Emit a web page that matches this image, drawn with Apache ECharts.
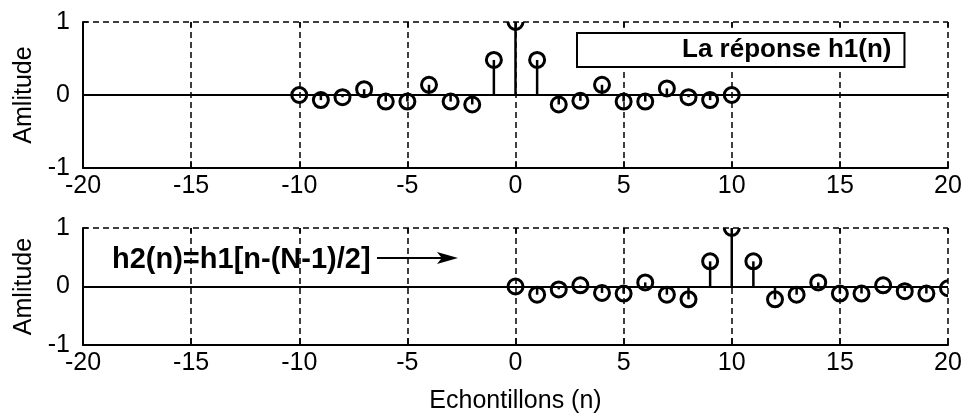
<!DOCTYPE html>
<html>
<head>
<meta charset="utf-8">
<script src="https://cdn.jsdelivr.net/npm/echarts@6/dist/echarts.min.js"></script>
<style>
html, body { margin: 0; padding: 0; background: #fff; }
#main { width: 965px; height: 416px; }
</style>
</head>
<body>
<div id="main"></div>
<script>
// h1(n), n = -10..10
var n1 = [-10, -9, -8, -7, -6, -5, -4, -3, -2, -1, 0, 1, 2, 3, 4, 5, 6, 7, 8, 9, 10];
var h1 = [0, -0.07, -0.03, 0.08, -0.09, -0.09, 0.14, -0.09, -0.13, 0.48, 1,
          0.48, -0.13, -0.08, 0.14, -0.09, -0.09, 0.09, -0.03, -0.07, 0];

// h2(n) = h1[n-(N-1)/2], n = 0..20
var n2 = [0, 1, 2, 3, 4, 5, 6, 7, 8, 9, 10, 11, 12, 13, 14, 15, 16, 17, 18, 19, 20];
var h2 = [0, -0.14, -0.05, 0.02, -0.11, -0.12, 0.07, -0.14, -0.22, 0.43, 1,
          0.43, -0.22, -0.14, 0.07, -0.12, -0.12, 0.02, -0.08, -0.12, -0.03];

var yTicks = [-1, 0, 1];
var FONT = '"Liberation Sans", Arial, sans-serif';

var myChart = echarts.init(document.getElementById('main'));

function pairs(xs, ys) {
    var out = [];
    for (var i = 0; i < xs.length; i++) out.push([xs[i], ys[i]]);
    return out;
}

// matlab style stem: line from 0 to value + open circle
function stem(params, api) {
    var x = api.value(0), y = api.value(1);
    var base = api.coord([x, 0]);
    var tip = api.coord([x, y]);
    return {
        type: 'group',
        children: [{
            type: 'line',
            shape: { x1: base[0], y1: base[1], x2: tip[0], y2: tip[1] },
            style: { stroke: '#000', lineWidth: 2.5 }
        }, {
            type: 'circle',
            shape: { cx: tip[0], cy: tip[1], r: 7.5 },
            style: { fill: 'none', stroke: '#000', lineWidth: 3 }
        }]
    };
}

function xAx(grid, bottom) {
    return {
        type: 'value', gridIndex: grid, min: -20, max: 20, interval: 5,
        position: 'bottom',
        axisLine: { show: true, onZero: false, lineStyle: { color: '#000', width: 2 } },
        axisTick: { show: true, inside: true, length: 7, lineStyle: { color: '#000', width: 1.5 } },
        axisLabel: { color: '#000', fontSize: 25, fontFamily: FONT, margin: 6 },
        splitLine: { show: true, lineStyle: { color: '#000', width: 1.5, type: [6, 4] } },
        name: bottom ? 'Echontillons (n)' : '',
        nameLocation: 'middle', nameGap: 44,
        nameTextStyle: { color: '#000', fontSize: 25, fontFamily: FONT }
    };
}

function xTop(grid) {
    return {
        type: 'value', gridIndex: grid, min: -20, max: 20, interval: 5,
        position: 'top',
        axisLine: { show: false, onZero: false },
        axisTick: { show: true, inside: true, length: 5, lineStyle: { color: '#000', width: 1.5 } },
        axisLabel: { show: false },
        splitLine: { show: false }
    };
}

function yAx(grid) {
    return {
        type: 'value', gridIndex: grid, min: yTicks[0], max: yTicks[2], interval: 1,
        position: 'left',
        axisLine: { show: true, onZero: false, lineStyle: { color: '#000', width: 2 } },
        axisTick: { show: true, inside: true, length: 5, lineStyle: { color: '#000', width: 1.5 } },
        axisLabel: { color: '#000', fontSize: 25, fontFamily: FONT, margin: 13 },
        splitLine: { show: true, lineStyle: { color: '#000', width: 1.5, type: [6, 4] } },
        name: 'Amlitude', nameLocation: 'middle', nameGap: 46, nameRotate: 90,
        nameTextStyle: { color: '#000', fontSize: 25, fontFamily: FONT }
    };
}

function baseline() {
    return {
        silent: true, symbol: 'none', label: { show: false },
        lineStyle: { color: '#000', type: 'solid', width: 2 },
        data: [{ yAxis: 0 }]
    };
}

option = {
    animation: false,
    backgroundColor: '#fff',
    grid: [
        { left: 83, width: 865, top: 22, height: 146, outerBoundsMode: 'none' },
        { left: 83, width: 865, top: 228, height: 117, outerBoundsMode: 'none' }
    ],
    xAxis: [xAx(0, false), xAx(1, true), xTop(0), xTop(1)],
    yAxis: [yAx(0), yAx(1)],
    legend: {
        data: ['La réponse h1(n)'],
        left: 577, top: 33,
        padding: [3, 13, 3, 5],
        itemWidth: 95, itemHeight: 10, itemGap: 0,
        icon: 'rect',
        itemStyle: { color: '#fff', borderWidth: 0 },
        borderColor: '#000', borderWidth: 2, borderRadius: 0,
        backgroundColor: '#fff',
        selectedMode: false,
        textStyle: { color: '#000', fontSize: 26, fontWeight: 'bold', fontFamily: FONT, lineHeight: 28 }
    },
    graphic: [{
        type: 'text', left: 112, top: 245, z: 100,
        style: { text: 'h2(n)=h1[n-(N-1)/2]', fill: '#000', font: 'bold 29px ' + FONT }
    }, {
        // arrow: shaft + head in one shape
        type: 'polygon', z: 100,
        shape: { points: [[377, 257], [441, 257], [437, 252], [458, 258], [437, 264], [441, 259], [377, 259]] },
        style: { fill: '#000' }
    }],
    series: [{
        name: 'La réponse h1(n)',
        type: 'custom',
        xAxisIndex: 0, yAxisIndex: 0,
        clip: true,
        renderItem: stem,
        data: pairs(n1, h1),
        markLine: baseline()
    }, {
        name: 'h2(n)',
        type: 'custom',
        xAxisIndex: 1, yAxisIndex: 1,
        clip: true,
        renderItem: stem,
        data: pairs(n2, h2),
        markLine: baseline()
    }]
};

myChart.setOption(option);
</script>
</body>
</html>
